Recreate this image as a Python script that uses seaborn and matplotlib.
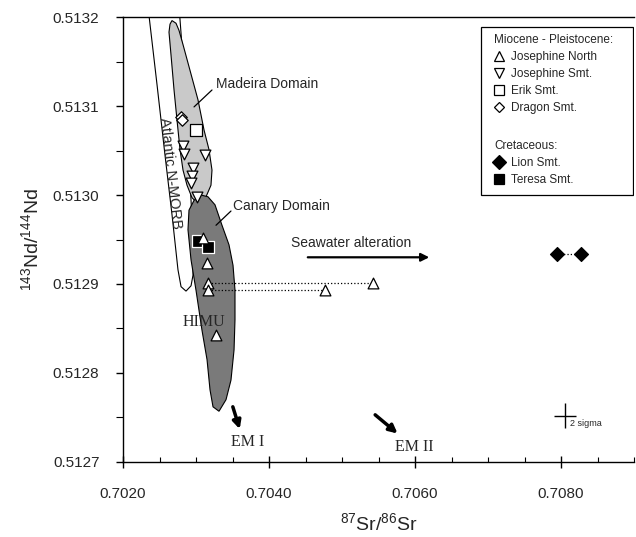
import numpy as np
import matplotlib
matplotlib.use("Agg")
import matplotlib.pyplot as plt
import seaborn as sns
import pandas as pd
from matplotlib.lines import Line2D
from matplotlib.patches import Rectangle
from matplotlib.ticker import MultipleLocator, FormatStrFormatter

# --- sample data (87Sr/86Sr, 143Nd/144Nd) ---
jn_sr = [0.70310, 0.70315, 0.70316, 0.70316, 0.70328, 0.70477, 0.70542]
jn_nd = [0.512952, 0.512924, 0.512901, 0.512893, 0.512843, 0.512893, 0.512901]
js_sr = [0.70282, 0.70284, 0.70312, 0.70296, 0.70295, 0.70293, 0.70302]
js_nd = [0.513055, 0.513046, 0.513045, 0.513030, 0.513021, 0.513013, 0.512998]
erik_sr = [0.70300]
erik_nd = [0.513073]
dragon_sr = [0.70280, 0.70281]
dragon_nd = [0.513088, 0.513084]
lion_sr = [0.70794, 0.70827]
lion_nd = [0.512934, 0.512934]
teresa_sr = [0.70303, 0.70316]
teresa_nd = [0.512948, 0.512942]

# leached / unleached pairs joined by dotted lines
tie_sr = [[0.70316, 0.70542], [0.70316, 0.70477], [0.70794, 0.70827]]
tie_nd = [[0.512901, 0.512901], [0.512893, 0.512893], [0.512934, 0.512934]]

# field outlines
morb_sr = [0.702330, 0.702760, 0.702822, 0.702877, 0.702918, 0.702959, 0.702959,
           0.702932, 0.702863, 0.702795, 0.702753, 0.702671, 0.702575, 0.702466]
morb_nd = [0.513220, 0.513220, 0.513152, 0.513084, 0.513017, 0.512949, 0.512910,
           0.512898, 0.512892, 0.512897, 0.512916, 0.512978, 0.513045, 0.513124]
madeira_sr = [0.702671, 0.702726, 0.702767, 0.702822, 0.702918, 0.703027, 0.703110,
              0.703178, 0.703219, 0.703205, 0.703137, 0.703041, 0.702945, 0.702877,
              0.702822, 0.702781, 0.702740, 0.702699, 0.702658, 0.702630, 0.702644]
madeira_nd = [0.513196, 0.513193, 0.513185, 0.513169, 0.513140, 0.513107, 0.513073,
              0.513051, 0.513028, 0.513011, 0.512998, 0.512989, 0.512997, 0.513011,
              0.513028, 0.513051, 0.513084, 0.513118, 0.513157, 0.513183, 0.513192]
canary_sr = [0.703068, 0.703164, 0.703260, 0.703356, 0.703452, 0.703507, 0.703534,
             0.703534, 0.703521, 0.703479, 0.703411, 0.703315, 0.703233, 0.703192,
             0.703151, 0.703082, 0.703000, 0.702932, 0.702890, 0.702904, 0.702973]
canary_nd = [0.513000, 0.512998, 0.512989, 0.512966, 0.512944, 0.512921, 0.512893,
             0.512860, 0.512826, 0.512792, 0.512770, 0.512757, 0.512762, 0.512781,
             0.512815, 0.512848, 0.512893, 0.512927, 0.512961, 0.512983, 0.512994]

sigma_pos = [0.708055, 0.512752]
sigma_err = [0.000155, 0.000014]

sns.set_theme(style="ticks")
plt.rcParams['font.family'] = ['Liberation Sans', 'DejaVu Sans']
plt.rcParams['mathtext.default'] = 'regular'

fig = plt.figure(figsize=(6.36, 5.37), dpi=100)
ax = fig.add_axes([0.1934, 0.1397, 0.8035, 0.8286])

# fields
ax.fill(morb_sr, morb_nd, facecolor='white', edgecolor='black', lw=0.8, zorder=1)
ax.fill(madeira_sr, madeira_nd, facecolor='#c9c9c9', edgecolor='black', lw=0.8, zorder=2)
ax.fill(canary_sr, canary_nd, facecolor='#7a7a7a', edgecolor='black', lw=0.8, zorder=3)

for xs, ys in zip(tie_sr, tie_nd):
    ax.plot(xs, ys, ls=':', color='black', lw=0.9, zorder=4)

groups = [
    (teresa_sr, teresa_nd, 's', 'black', 'white', 75),
    (jn_sr, jn_nd, '^', 'white', 'black', 60),
    (js_sr, js_nd, 'v', 'white', 'black', 60),
    (erik_sr, erik_nd, 's', 'white', 'black', 70),
    (dragon_sr, dragon_nd, 'D', 'white', 'black', 34),
    (lion_sr, lion_nd, 'D', 'black', 'black', 50),
]
for i, (xs, ys, m, fc, ec, s) in enumerate(groups):
    df = pd.DataFrame({'sr': xs, 'nd': ys})
    sns.scatterplot(data=df, x='sr', y='nd', marker=m, color=fc, edgecolor=ec,
                    linewidth=0.9, s=s, ax=ax, zorder=5 + i)

# 2 sigma cross
ax.errorbar([sigma_pos[0]], [sigma_pos[1]], xerr=[sigma_err[0]], yerr=[sigma_err[1]],
            fmt='none', ecolor='black', elinewidth=1.0, capsize=0)
ax.text(sigma_pos[0] + 0.00007, sigma_pos[1] - 0.000009, '2 sigma', fontsize=6.5,
        ha='left', va='center')

# labels and arrows
ax.text(0.703274, 0.513125, 'Madeira Domain', fontsize=10, ha='left', va='center')
ax.plot([0.703219, 0.702973], [0.513118, 0.513099], color='black', lw=0.9, zorder=8)
ax.text(0.703507, 0.512988, 'Canary Domain', fontsize=10, ha='left', va='center')
ax.plot([0.703479, 0.703274], [0.512982, 0.512966], color='black', lw=0.9, zorder=8)
ax.text(0.702650, 0.513025, 'Atlantic N-MORB', fontsize=10.5, ha='center', va='center',
        rotation=-83.5, rotation_mode='anchor')
ax.text(0.704300, 0.512946, 'Seawater alteration', fontsize=10, ha='left', va='center')
ax.annotate('', xy=(0.706233, 0.512930), xytext=(0.704493, 0.512930),
            arrowprops=dict(arrowstyle='-|>', lw=1.6, color='black', mutation_scale=12))
serif = ['Liberation Serif', 'DejaVu Serif']
ax.text(0.703110, 0.512857, 'HIMU', fontsize=11.5, family=serif, ha='center', va='center', zorder=12)
ax.annotate('', xy=(0.703610, 0.512734), xytext=(0.703493, 0.512765),
            arrowprops=dict(arrowstyle='-|>', lw=2.5, color='black', mutation_scale=12))
ax.text(0.703712, 0.512722, 'EM I', fontsize=11.5, family=serif, ha='center', va='center')
ax.annotate('', xy=(0.705790, 0.512730), xytext=(0.705425, 0.512755),
            arrowprops=dict(arrowstyle='-|>', lw=2.5, color='black', mutation_scale=12))
ax.text(0.705986, 0.512717, 'EM II', fontsize=11.5, family=serif, ha='center', va='center')

# legend
def h(m, fc, ec, ms):
    return Line2D([], [], marker=m, ls='', mfc=fc, mec=ec, ms=ms, mew=0.9)

leg_kw = dict(frameon=False, fontsize=8.5, title_fontsize=8.5, alignment='left',
              handlelength=0.8, handletextpad=0.6, labelspacing=0.42, borderpad=0,
              borderaxespad=0, loc='upper left')
leg1 = ax.legend([h('^', 'white', 'black', 7), h('v', 'white', 'black', 7),
                  h('s', 'white', 'black', 7), h('D', 'white', 'black', 5)],
                 ['Josephine North', 'Josephine Smt.', 'Erik Smt.', 'Dragon Smt.'],
                 title='Miocene - Pleistocene:', bbox_to_anchor=(0.726, 0.962), **leg_kw)
ax.add_artist(leg1)
ax.legend([h('D', 'black', 'black', 7), h('s', 'black', 'black', 7)],
          ['Lion Smt.', 'Teresa Smt.'], title='Cretaceous:',
          bbox_to_anchor=(0.726, 0.724), **leg_kw)
ax.add_patch(Rectangle((0.7006, 0.6), 0.2975, 0.3775, transform=ax.transAxes,
                       fill=False, ec='black', lw=0.9, zorder=20))

# axes
ax.set_xlim(0.7020, 0.7090)
ax.set_ylim(0.5127, 0.5132)
ax.xaxis.set_major_locator(MultipleLocator(0.002))
ax.xaxis.set_minor_locator(MultipleLocator(0.0005))
ax.yaxis.set_major_locator(MultipleLocator(0.0001))
ax.yaxis.set_minor_locator(MultipleLocator(0.00005))
ax.xaxis.set_major_formatter(FormatStrFormatter('%.4f'))
ax.yaxis.set_major_formatter(FormatStrFormatter('%.4f'))
ax.tick_params(axis='x', which='major', direction='inout', length=8.5, width=1.0,
               labelsize=11, pad=14, color='black')
ax.tick_params(axis='x', which='minor', direction='in', length=3.5, width=0.8, color='black')
ax.tick_params(axis='y', which='major', direction='out', length=5, width=1.0,
               labelsize=11, pad=12, color='black')
ax.tick_params(axis='y', which='minor', direction='out', length=5, width=0.8, color='black')
for side in ['left', 'bottom', 'top']:
    ax.spines[side].set_linewidth(1.0)
    ax.spines[side].set_color('black')
ax.spines['right'].set_visible(False)

ax.set_xlabel('$^{87}$Sr/$^{86}$Sr', fontsize=14, labelpad=8)
ax.set_ylabel('$^{143}$Nd/$^{144}$Nd', fontsize=14, labelpad=8)

fig.savefig('out.png', dpi=100)
